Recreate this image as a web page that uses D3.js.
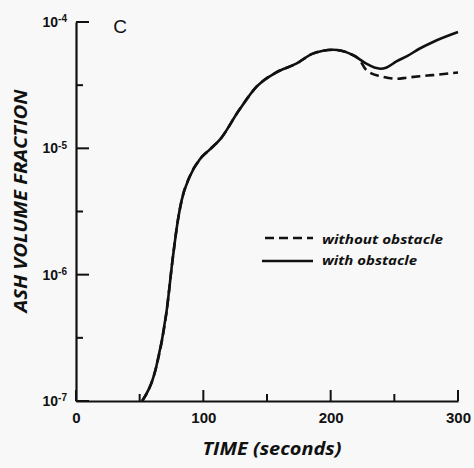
<!DOCTYPE html>
<html>
<head>
<meta charset="utf-8">
<script src="https://cdn.jsdelivr.net/npm/d3@7"></script>
<style>
  html, body { margin: 0; padding: 0; background: #f8f8f8; }
  svg { display: block; font-family: "Open Sans", "Liberation Sans", sans-serif; }
</style>
</head>
<body>
<div id="chart"></div>
<script>
// time in seconds, ash volume fraction
var timeSec = [52, 63, 71, 76, 80, 83, 89, 97, 105, 113, 128, 142, 157, 173, 186, 202, 215, 222,
               228, 239, 244, 252, 260, 270, 280, 300];
var ashWith = [1.0e-7, 1.86e-7, 5.0e-7, 1.35e-6, 2.69e-6, 3.89e-6, 5.89e-6, 8.13e-6,
               9.77e-6, 1.17e-5, 2.0e-5, 3.09e-5, 3.98e-5, 4.68e-5, 5.62e-5, 6.03e-5, 5.62e-5, 5.13e-5,
               4.68e-5, 4.27e-5, 4.37e-5, 4.90e-5, 5.37e-5, 6.17e-5, 6.92e-5, 8.32e-5];
var ashWithout = [1.0e-7, 1.86e-7, 5.0e-7, 1.35e-6, 2.69e-6, 3.89e-6, 5.89e-6, 8.13e-6,
               9.77e-6, 1.17e-5, 2.0e-5, 3.09e-5, 3.98e-5, 4.68e-5, 5.62e-5, 6.03e-5, 5.62e-5, 5.13e-5,
               4.17e-5, 3.72e-5, 3.63e-5, 3.55e-5, 3.63e-5, 3.72e-5, 3.80e-5, 3.98e-5];

var xMajor = [0, 100, 200, 300];
var xMinor = [50, 150, 250];
var yMajorExp = [-4, -5, -6, -7];
var yMinorExp = [-4.5, -5.5, -6.5];

var width = 474, height = 468;
var ink = "#111";

var svg = d3.select("#chart").append("svg")
  .attr("width", width)
  .attr("height", height)
  .style("background", "#f8f8f8");

var x = d3.scaleLinear().domain([0, 300]).range([76, 458]);
var y = d3.scaleLog().domain([1e-7, 1e-4]).range([401, 22]);

// y axis (labels + domain), ticks drawn below
var yAxis = svg.append("g")
  .attr("transform", "translate(" + x(0) + ",0)")
  .call(d3.axisLeft(y)
    .tickValues(yMajorExp.map(function(e) { return Math.pow(10, e); }))
    .tickSize(0)
    .tickPadding(9));
yAxis.selectAll(".tick line").remove();

yAxis.selectAll(".tick text")
  .attr("font-size", 14)
  .attr("font-weight", "bold")
  .attr("fill", ink)
  .each(function(d) {
    var t = d3.select(this);
    var e = Math.round(Math.log10(d));
    t.text(null);
    t.append("tspan").text("10");
    t.append("tspan").attr("dy", "-0.45em").attr("font-size", 10).text(e);
  });

// x axis
var xAxis = svg.append("g")
  .attr("transform", "translate(0," + y(1e-7) + ")")
  .call(d3.axisBottom(x)
    .tickValues(xMajor)
    .tickSize(0)
    .tickPadding(11));
xAxis.selectAll(".tick line").remove();

xAxis.selectAll(".tick text")
  .attr("font-size", 15)
  .attr("font-weight", "bold")
  .attr("fill", ink);

yAxis.select(".domain").attr("stroke", ink).attr("stroke-width", 2.2);
xAxis.select(".domain").attr("stroke", ink).attr("stroke-width", 2.2);

// inward tick marks
var yTicks = yMajorExp.map(function(e) { return {v: Math.pow(10, e), len: 13}; })
  .concat(yMinorExp.map(function(e) { return {v: Math.pow(10, e), len: 7}; }));
svg.append("g").selectAll("line")
  .data(yTicks)
  .enter().append("line")
  .attr("x1", x(0))
  .attr("x2", function(d) { return x(0) + d.len; })
  .attr("y1", function(d) { return y(d.v); })
  .attr("y2", function(d) { return y(d.v); })
  .attr("stroke", ink)
  .attr("stroke-width", 2);

var xTicks = xMajor.map(function(v) { return {v: v, len: 11}; })
  .concat(xMinor.map(function(v) { return {v: v, len: 7}; }));
svg.append("g").selectAll("line")
  .data(xTicks)
  .enter().append("line")
  .attr("x1", function(d) { return x(d.v); })
  .attr("x2", function(d) { return x(d.v); })
  .attr("y1", y(1e-7))
  .attr("y2", function(d) { return y(1e-7) - d.len; })
  .attr("stroke", ink)
  .attr("stroke-width", 2);

// curves
var line = d3.line()
  .x(function(d) { return x(d[0]); })
  .y(function(d) { return y(d[1]); })
  .curve(d3.curveMonotoneX);

svg.append("path")
  .datum(d3.zip(timeSec, ashWithout))
  .attr("d", line)
  .attr("fill", "none")
  .attr("stroke", ink)
  .attr("stroke-width", 2.6)
  .attr("stroke-dasharray", "9,5");

svg.append("path")
  .datum(d3.zip(timeSec, ashWith))
  .attr("d", line)
  .attr("fill", "none")
  .attr("stroke", ink)
  .attr("stroke-width", 2.6);

// panel letter
svg.append("text")
  .attr("x", 120).attr("y", 33)
  .attr("text-anchor", "middle")
  .attr("font-family", "Liberation Sans, sans-serif")
  .attr("font-size", 19)
  .attr("fill", ink)
  .text("C");

// legend
svg.append("line")
  .attr("x1", 265).attr("x2", 313).attr("y1", 238).attr("y2", 238)
  .attr("stroke", ink).attr("stroke-width", 2.6).attr("stroke-dasharray", "9,5");
svg.append("line")
  .attr("x1", 262).attr("x2", 313).attr("y1", 261).attr("y2", 261)
  .attr("stroke", ink).attr("stroke-width", 2.6);

svg.append("text")
  .attr("x", 322).attr("y", 244)
  .attr("font-size", 13).attr("font-weight", "bold").attr("font-style", "italic")
  .attr("textLength", 121).attr("lengthAdjust", "spacingAndGlyphs")
  .attr("fill", ink)
  .text("without obstacle");
svg.append("text")
  .attr("x", 322).attr("y", 265)
  .attr("font-size", 13).attr("font-weight", "bold").attr("font-style", "italic")
  .attr("textLength", 95).attr("lengthAdjust", "spacingAndGlyphs")
  .attr("fill", ink)
  .text("with obstacle");

// axis titles
svg.append("text")
  .attr("x", 272).attr("y", 455)
  .attr("text-anchor", "middle")
  .attr("font-size", 17).attr("font-weight", "bold").attr("font-style", "italic")
  .attr("textLength", 139).attr("lengthAdjust", "spacingAndGlyphs")
  .attr("fill", ink)
  .text("TIME (seconds)");

svg.append("text")
  .attr("transform", "translate(27,201) rotate(-90)")
  .attr("text-anchor", "middle")
  .attr("font-size", 18).attr("font-weight", "bold").attr("font-style", "italic")
  .attr("textLength", 223).attr("lengthAdjust", "spacingAndGlyphs")
  .attr("fill", ink)
  .text("ASH VOLUME FRACTION");
</script>
</body>
</html>
